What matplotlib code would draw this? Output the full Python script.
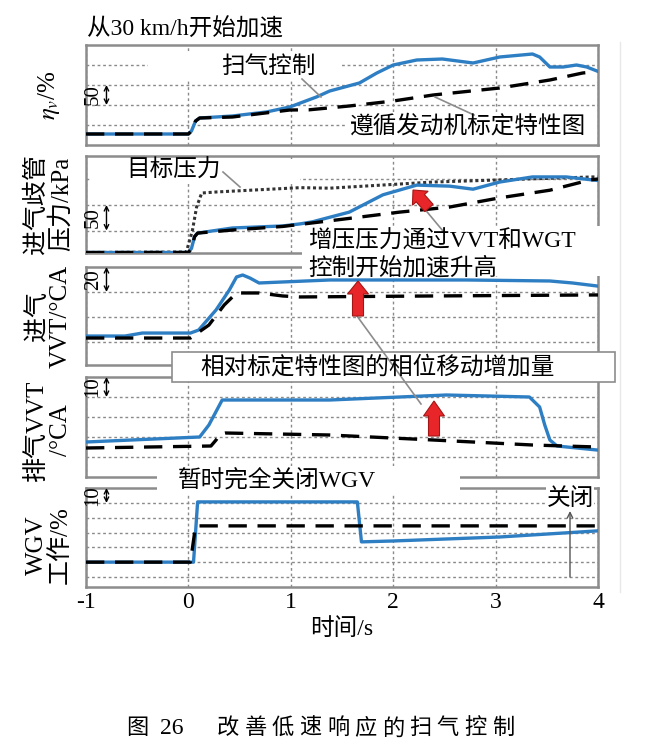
import numpy as np
import matplotlib.pyplot as plt
from matplotlib.patches import Rectangle, FancyArrow

plt.rcParams['font.family'] = ['Liberation Serif', 'Noto Sans CJK SC']
plt.rcParams['mathtext.fontset'] = 'stix'
plt.rcParams['axes.unicode_minus'] = False

# ---- 数据 ----
# 面板1: 充气效率 ηv/%
t_ev_scav = [-1, 0.0, 0.03, 0.07, 0.11, 0.43, 0.76, 0.99, 1.25, 1.38, 1.67, 1.84, 2.0,
             2.23, 2.48, 2.78, 3.04, 3.36, 3.43, 3.53, 3.66, 3.79, 3.89, 3.99]
ev_scav = [27.5, 27.5, 35, 60, 67.5, 72.5, 82.5, 95, 120, 135, 155, 180, 200,
           212.5, 215, 205, 220, 227.5, 220, 195, 195, 200, 195, 185]
t_ev_map = [-1, 0.0, 0.03, 0.07, 0.11, 0.43, 0.99, 1.18, 1.57, 2.0, 2.39, 3.04, 3.53, 3.85, 3.97]
ev_map = [27.5, 27.5, 35, 60, 67.5, 70, 87.5, 88, 97.5, 110, 125, 142.5, 162.5, 180, 183]

# 面板2: 进气歧管压力/kPa
t_p_scav = [-1, 0.0, 0.03, 0.06, 0.09, 0.43, 0.92, 1.09, 1.21, 1.38, 1.57, 1.9, 2.23,
            2.55, 2.78, 3.04, 3.36, 3.69, 3.95, 4.0]
p_scav = [7, 7, 15, 38, 45, 55, 59, 63, 67, 76, 86, 120, 139,
          137, 131, 145, 155, 155, 149, 148]
t_p_map = [-1, 0.0, 0.03, 0.06, 0.09, 0.43, 0.92, 1.09, 1.5, 2.06, 2.55, 3.04, 3.53, 3.92, 4.0]
p_map = [7, 7, 15, 38, 45, 51, 58, 62, 72, 86, 96, 114, 129, 149, 151]
t_p_target = [-1, -0.02, 0.04, 0.08, 0.13, 0.27, 1.09, 1.38, 2.39, 3.95, 4.0]
p_target = [7, 8, 51, 96, 123.5, 125.5, 134, 133, 145, 155, 155]

# 面板3: 进气VVT/°CA
t_in_scav = [-1, -0.62, -0.45, 0.02, 0.1, 0.27, 0.4, 0.47, 0.53, 0.6, 0.69, 0.92, 1.38,
             2.72, 3.53, 3.75, 3.99]
in_scav = [24.7, 24.7, 27.1, 27.1, 29.5, 45.6, 61.6, 72, 73.6, 71.2, 67.2, 68, 69.6,
           69.6, 68.8, 67.2, 64.8]
t_in_map = [-1, 0.02, 0.2, 0.35, 0.47, 0.69, 0.92, 1.09, 2.39, 3.95, 4.0]
in_map = [23.1, 23.1, 33.5, 49.6, 59.2, 59.2, 56.8, 56, 56.8, 57.6, 57.6]

# 面板4: 排气VVT/°CA
t_ex_scav = [-1, 0.11, 0.2, 0.33, 1.38, 2.52, 3.33, 3.43, 3.48, 3.53, 3.6, 3.99]
ex_scav = [17.5, 20, 26, 38.5, 38.5, 41, 40, 35, 26, 18.5, 15.5, 13.5]
t_ex_map = [-1, 0.22, 0.27, 0.31, 0.36, 1.38, 2.39, 3.36, 3.99]
ex_map = [14.5, 15.5, 18.5, 21.5, 22, 21, 18.5, 16, 15]

# 面板5: WGV工作/%
t_wgv_scav = [-1, 0.05, 0.09, 1.65, 1.69, 2.0, 3.04, 3.99]
wgv_scav = [10, 10, 50.7, 50.7, 23.7, 24.3, 27, 31.1]
t_wgv_map = [-1, 0.02, 0.07, 4.0]
wgv_map = [10, 10, 34.5, 34.5]

panels = [
    dict(scav=(t_ev_scav, ev_scav), map=(t_ev_map, ev_map), ylim=(0, 250),
         grid=[50, 100, 150, 200], bar=(100, 150, '50')),
    dict(scav=(t_p_scav, p_scav), map=(t_p_map, p_map), target=(t_p_target, p_target),
         ylim=(6, 196), grid=[50, 100, 150], bar=(50, 100, '50')),
    dict(scav=(t_in_scav, in_scav), map=(t_in_map, in_map), ylim=(1.5, 80),
         grid=[20, 40, 60], bar=(60, 80, '20')),
    dict(scav=(t_ex_scav, ex_scav), map=(t_ex_map, ex_map), ylim=(0, 50),
         grid=[10, 20, 30, 40], bar=(40, 50, '10')),
    dict(scav=(t_wgv_scav, wgv_scav), map=(t_wgv_map, wgv_map), ylim=(-6.8, 60.1),
         grid=[0, 10, 20, 30, 40, 50], bar=(50, 60.1, '10')),
]
ylabels = [r'$\eta_v$/%', '进气歧管\n压力/kPa', '进气\nVVT/°CA', '排气VVT\n/°CA', 'WGV\n工作/%']
ylabel_y = [95, 204, 316, 430, 545]
xticks = [-1, 0, 1, 2, 3, 4]

W, H = 655, 755
fig = plt.figure(figsize=(W / 100, H / 100), dpi=100)

# 面板位置 (像素: 上, 下)
boxes = [(45, 145), (156, 253), (267, 365), (377, 477), (488, 587)]
x0, x1 = 86, 598

blue = '#2e7ec3'
axes = []
for i, (pd, (top, bot)) in enumerate(zip(panels, boxes)):
    ax = fig.add_axes([x0 / W, 1 - bot / H, (x1 - x0) / W, (bot - top) / H])
    ax.set_xlim(-1, 4)
    ax.set_ylim(*pd['ylim'])
    ax.set_xticks(xticks)
    ax.set_yticks(pd['grid'])
    ax.set_yticklabels([])
    ax.tick_params(length=0, labelsize=17)
    if i < 4:
        ax.set_xticklabels([])
    ax.grid(True, color='#8a8a8a', lw=1.0, ls=(0, (2, 2)))
    ax.set_axisbelow(True)
    for s in ax.spines.values():
        s.set_color('#8c8c8c')
        s.set_linewidth(1.8)
    if 'target' in pd:
        ax.plot(*pd['target'], color='#333333', lw=2.2, ls=(0, (1, 0.9)), zorder=2)
    ax.plot(*pd['scav'], color=blue, lw=2.4, zorder=3)
    ax.plot(*pd['map'], color='black', lw=2.4, ls=(0, (5.5, 3.2)), zorder=4)
    lo, hi, lab = pd['bar']
    ax.annotate('', xy=(-0.8, hi), xytext=(-0.8, lo),
                arrowprops=dict(arrowstyle='<->', lw=1.0, color='black',
                                shrinkA=0, shrinkB=0, mutation_scale=8), zorder=5)
    ax.text(-0.93, (lo + hi) / 2, lab, rotation=90, ha='center', va='center',
            fontsize=15, zorder=5)
    axes.append(ax)

axes[-1].set_xlabel('时间/s', fontsize=17, labelpad=4)

# ---- 叠加层 (像素坐标) ----
ov = fig.add_axes([0, 0, 1, 1], zorder=10)
ov.set_xlim(0, W)
ov.set_ylim(H, 0)
ov.axis('off')
ov.patch.set_alpha(0)

gray = '#8c8c8c'
ov.plot([620, 620], [42, 592], color='#e8e8e8', lw=1)

for (bx, by, bw, bh) in [(148, 52, 192, 29), (345, 112, 251, 28), (90, 159, 210, 24),
                         (302, 226, 305, 50), (157, 466, 303, 29)]:
    ov.add_patch(Rectangle((bx, by), bw, bh, fc='white', ec='none', zorder=1))
ov.add_patch(Rectangle((172, 352), 443, 30, fc='white', ec=gray, lw=1.2, zorder=1))

fs = 17
ov.text(87, 29, '从30 km/h开始加速', fontsize=17, ha='left', va='center')
ov.text(268, 67, '扫气控制', fontsize=fs, ha='center', va='center', zorder=3)
ov.text(350, 126, '遵循发动机标定特性图', fontsize=fs, ha='left', va='center', zorder=3)
ov.text(174, 171, '目标压力', fontsize=fs, ha='center', va='center', zorder=3)
ov.text(308, 241, '增压压力通过VVT和WGT', fontsize=fs, ha='left', va='center', zorder=3)
ov.text(308, 268, '控制开始加速升高', fontsize=fs, ha='left', va='center', zorder=3)
ov.text(200, 367, '相对标定特性图的相位移动增加量', fontsize=fs, ha='left', va='center', zorder=3)
ov.text(178, 481, '暂时完全关闭WGV', fontsize=fs, ha='left', va='center', zorder=3)
ov.text(570, 499, '关闭', fontsize=fs, ha='center', va='center', zorder=3,
        bbox=dict(fc='white', ec='none', pad=0.5))

# 引线
for (xa, ya, xb, yb) in [(302, 79, 321, 97), (435, 97, 474, 115), (223, 172, 240, 187),
                         (423, 207, 443, 231), (357, 316, 421, 404)]:
    ov.plot([xa, xb], [ya, yb], color=gray, lw=1.2, zorder=2)
ov.annotate('', xy=(570, 511), xytext=(570, 577),
            arrowprops=dict(arrowstyle='->', color='#555555', lw=1.0, mutation_scale=10,
                            shrinkA=0, shrinkB=0), zorder=3)

# 红色箭头
red, dred = '#e8262a', '#a31515'
for (tx, ty, hx, hy, hl) in [(429, 208, 413, 190, 11), (358, 316, 358, 281, 13),
                             (434, 436, 434, 401, 15)]:
    ov.add_patch(FancyArrow(tx, ty, hx - tx, hy - ty, width=11, head_width=21,
                            head_length=hl, length_includes_head=True,
                            fc=red, ec=dred, lw=0.8, zorder=4))

# y 轴标签
for lab, yc in zip(ylabels, ylabel_y):
    ov.text(49, yc, lab, rotation=90, fontsize=18, ha='center', va='center',
            multialignment='center', linespacing=1.05)

# 图题
ov.text(137, 729, '图', fontsize=16, ha='center', va='center')
ov.text(172, 729, '26', fontsize=17, ha='center', va='center')
for k, ch in enumerate('改善低速响应的扫气控制'):
    ov.text(228 + 27.5 * k, 729, ch, fontsize=16, ha='center', va='center')

fig.savefig('out.png', dpi=100)
